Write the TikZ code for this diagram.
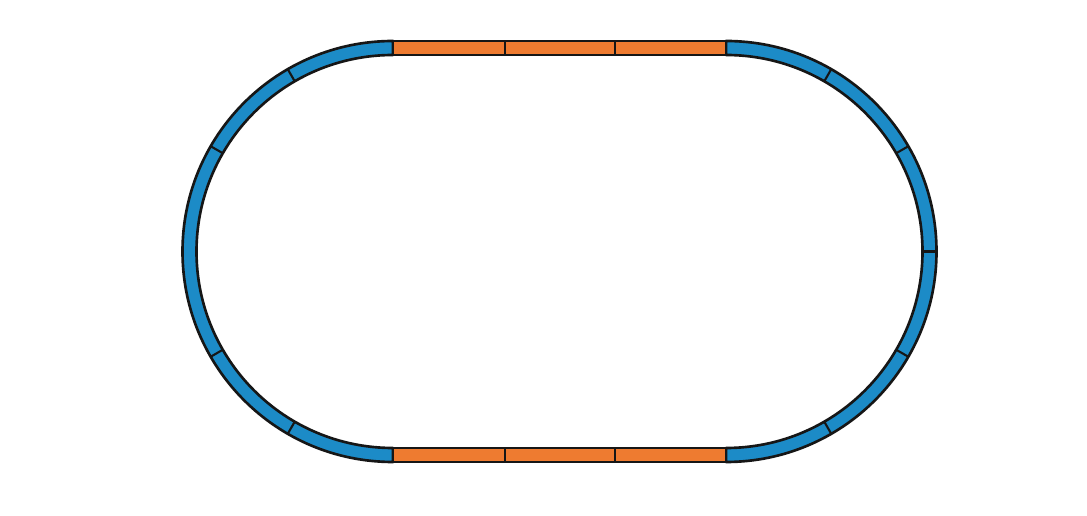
\documentclass[tikz,border=0pt]{standalone}
\definecolor{trackblue}{RGB}{28,139,199}
\definecolor{trackorange}{RGB}{238,123,48}
\definecolor{trackline}{RGB}{22,22,22}
\tikzset{
  track/.style={draw=trackline,line width=1.5pt,line join=round},
  bluepart/.style={track,fill=trackblue},
  orangepart/.style={track,fill=trackorange},
  joint/.style={draw=trackline,line width=1.2pt}
}
\begin{document}
\begin{tikzpicture}[x=0.02cm,y=0.02cm]
\useasboundingbox[fill=white] (0,0) rectangle (1087,516);
\coordinate (cl) at (393,264.5);
\coordinate (cr) at (726,264.5);
% left curve
\path[bluepart] (393,475) arc[start angle=90,end angle=270,radius=210.5]
  -- (393,68) arc[start angle=270,end angle=90,radius=196.5] -- cycle;
% right curve
\path[bluepart] (726,475) arc[start angle=90,end angle=-90,radius=210.5]
  -- (726,68) arc[start angle=-90,end angle=90,radius=196.5] -- cycle;
% straights
\path[orangepart] (393,461) rectangle (726,475);
\path[orangepart] (393,54) rectangle (726,68);
\foreach \x in {505,615}{
  \draw[joint] (\x,461) -- (\x,475);
  \draw[joint] (\x,54) -- (\x,68);
}
\foreach \a in {120,150,210,240}{
  \draw[joint,shift={(cl)}] (\a:196.5) -- (\a:210.5);
}
\foreach \a in {60,30,0,-30,-60}{
  \draw[joint,shift={(cr)}] (\a:196.5) -- (\a:210.5);
}
\end{tikzpicture}
\end{document}
